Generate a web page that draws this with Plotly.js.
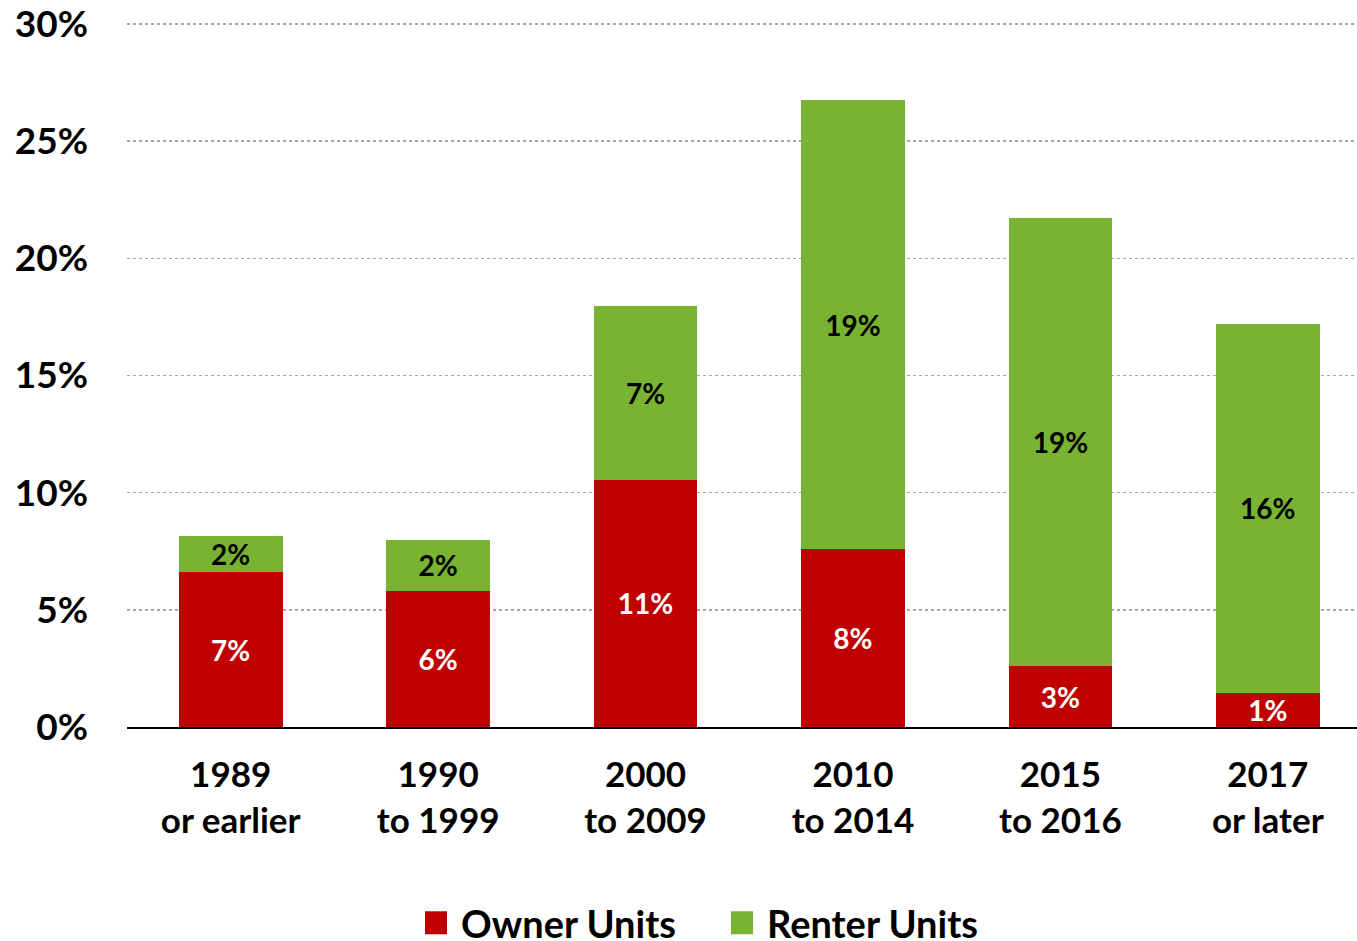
<!DOCTYPE html>
<html>
<head>
<meta charset="utf-8">
<script src="https://cdn.plot.ly/plotly-3.0.1.min.js"></script>
<style>
html,body{margin:0;padding:0;background:#fff;}
#chart{width:1357px;height:941px;}
</style>
</head>
<body>
<div id="chart"></div>
<script>
var categories = ["1989<br>or earlier", "1990<br>to 1999", "2000<br>to 2009", "2010<br>to 2014", "2015<br>to 2016", "2017<br>or later"];
var ownerUnits = [6.6, 5.8, 10.55, 7.6, 2.6, 1.45];
var renterUnits = [1.55, 2.2, 7.4, 19.15, 19.1, 15.75];
var yTickVals = [0, 5, 10, 15, 20, 25, 30];
var yTickText = ["0%", "5%", "10%", "15%", "20%", "25%", "30%"];

var FONT = "Lato, 'Open Sans', sans-serif";

var traces = [
  {
    type: "bar", name: "Owner Units", x: categories, y: ownerUnits,
    marker: {color: "#C00000", line: {width: 0}},
    texttemplate: "%{y:.0f}%", textposition: "inside", insidetextanchor: "middle",
    constraintext: "none",
    textfont: {family: FONT, size: 28, color: "#ffffff", weight: 700},
    hoverinfo: "none"
  },
  {
    type: "bar", name: "Renter Units", x: categories, y: renterUnits,
    marker: {color: "#78B432", line: {width: 0}},
    texttemplate: "%{y:.0f}%", textposition: "inside", insidetextanchor: "middle",
    constraintext: "none",
    textfont: {family: FONT, size: 28, color: "#000000", weight: 700},
    hoverinfo: "none"
  }
];

var layout = {
  width: 1357, height: 941,
  margin: {l: 127, r: 0, t: 22, b: 214, pad: 0},
  paper_bgcolor: "#ffffff", plot_bgcolor: "#ffffff",
  barmode: "stack", bargap: 0.5,
  font: {family: FONT, color: "#000000", weight: 700},
  showlegend: true,
  legend: {
    orientation: "h", xref: "container", yref: "container",
    x: 411 / 1357, xanchor: "left", y: 0.019, yanchor: "middle",
    itemwidth: 40, entrywidth: 251, entrywidthmode: "pixels",
    font: {family: FONT, size: 38, color: "#000000", weight: 700},
    bgcolor: "rgba(0,0,0,0)", traceorder: "normal"
  },
  xaxis: {
    type: "category", range: [-0.5, 5.43], autorange: false,
    showgrid: false, zeroline: false,
    showline: true, linecolor: "#000000", linewidth: 2,
    ticks: "", ticklabelstandoff: 16,
    tickfont: {family: FONT, size: 35, color: "#000000", weight: 700},
    fixedrange: true
  },
  yaxis: {
    range: [0, 30.085], autorange: false,
    tickvals: yTickVals, ticktext: yTickText,
    showgrid: true, gridcolor: "#A6A6A6", gridwidth: 1.5, griddash: "dot",
    zeroline: false, showline: false, ticks: "",
    ticklabelstandoff: 38, ticklabeloverflow: "allow",
    tickfont: {family: FONT, size: 37, color: "#000000", weight: 700},
    fixedrange: true
  }
};

Plotly.newPlot("chart", traces, layout, {staticPlot: true, displayModeBar: false}).then(function (gd) {
  gd.querySelectorAll(".legendpoints path").forEach(function (p) {
    p.setAttribute("d", "M11,11.5H-11V-11.5H11Z");
  });
});
</script>
</body>
</html>
